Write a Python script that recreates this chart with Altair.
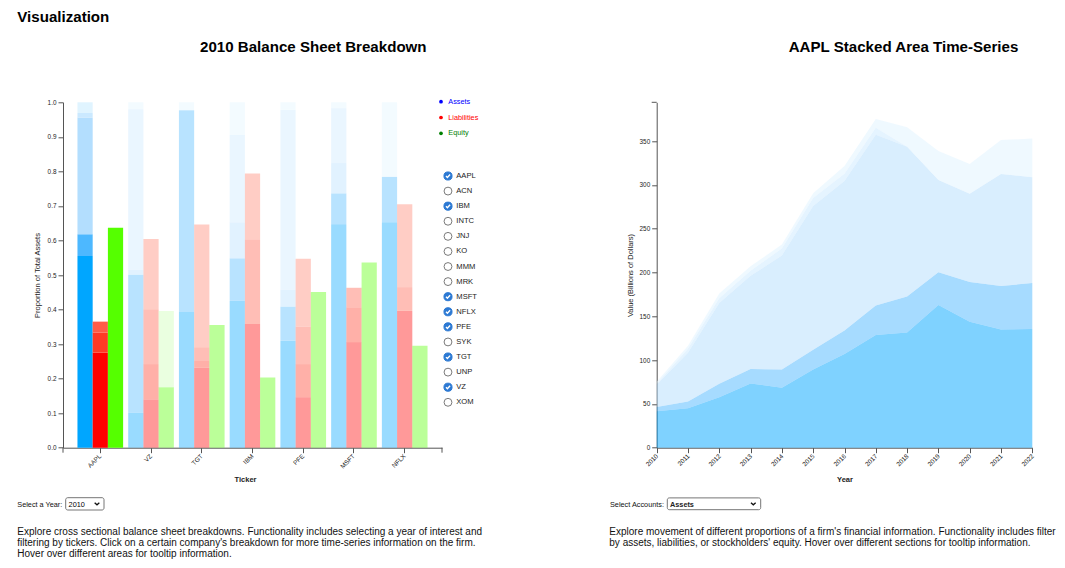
import altair as alt
import pandas as pd

FONT = "Liberation Sans"

# ---------------- data ----------------
BAR_TICKERS = ["AAPL", "VZ", "TGT", "IBM", "PFE", "MSFT", "NFLX"]
ACCOUNTS = ["Assets", "Liabilities", "Equity"]
SELECTED_FIRM = "AAPL"
YEAR = 2010

# cumulative segment tops (proportion of total assets), bottom -> top
ASSET_TOPS = {
    "AAPL": [0.555, 0.618, 0.956, 0.969, 1.000],
    "VZ":   [0.101, 0.501, 0.515, 0.980, 1.000],
    "TGT":  [0.393, 0.977, 0.977, 0.977, 1.000],
    "IBM":  [0.425, 0.548, 0.652, 0.905, 1.000],
    "PFE":  [0.310, 0.408, 0.457, 0.978, 1.000],
    "MSFT": [0.647, 0.736, 0.824, 0.983, 1.000],
    "NFLX": [0.653, 0.784, 0.784, 0.784, 1.000],
}
LIAB_TOPS = {
    "AAPL": [0.275, 0.333, 0.365, 0.365],
    "VZ":   [0.139, 0.242, 0.399, 0.604],
    "TGT":  [0.231, 0.251, 0.289, 0.646],
    "IBM":  [0.358, 0.358, 0.603, 0.794],
    "PFE":  [0.146, 0.242, 0.350, 0.547],
    "MSFT": [0.305, 0.406, 0.463, 0.463],
    "NFLX": [0.396, 0.396, 0.465, 0.705],
}
EQUITY_TOPS = {
    "AAPL": [0.637, 0.637],
    "VZ":   [0.175, 0.396],
    "TGT":  [0.355, 0.355],
    "IBM":  [0.203, 0.203],
    "PFE":  [0.451, 0.451],
    "MSFT": [0.536, 0.536],
    "NFLX": [0.295, 0.295],
}

ALL_TICKERS = ["AAPL", "ACN", "IBM", "INTC", "JNJ", "KO", "MMM", "MRK",
               "MSFT", "NFLX", "PFE", "SYK", "TGT", "UNP", "VZ", "XOM"]
CHECKED = ["AAPL", "IBM", "MSFT", "NFLX", "PFE", "TGT", "VZ"]

YEARS = list(range(2010, 2023))
CURRENT_ASSETS = [41.68, 44.99, 57.65, 73.29, 68.53, 89.38, 106.87, 128.65, 131.34, 162.82, 143.71, 134.84, 135.41]
PPE = [4.77, 7.78, 15.45, 16.60, 20.62, 22.47, 27.01, 33.78, 41.30, 37.38, 45.34, 49.61, 52.52]
LT_SECURITIES = [25.39, 55.62, 92.12, 106.22, 130.16, 164.07, 170.43, 194.71, 170.80, 105.34, 100.89, 127.88, 120.81]
INTANGIBLES = [1.08, 4.43, 5.36, 5.76, 8.00, 9.13, 8.46, 8.02, 0.0, 0.0, 0.0, 0.0, 0.0]
OTHER_ASSETS = [2.26, 3.55, 5.48, 5.15, 4.53, 5.42, 8.76, 10.10, 22.28, 32.98, 33.95, 38.76, 44.01]

ASSET_SEGS = ["A1", "A2", "A3", "A4", "A5"]
LIAB_SEGS = ["L1", "L2", "L3", "L4"]
EQUITY_SEGS = ["E1", "E2"]
SEG_KEYS = ASSET_SEGS + LIAB_SEGS + EQUITY_SEGS
SEG_COLORS = ["#00a6ff", "#4db8ff", "#b3defe", "#cbe9ff", "#e0f4ff",
              "#ff0000", "#ff3a26", "#ff5c48", "#ff826e",
              "#55ff00", "#caffb1"]
LEGEND_COLORS = ["#0000ff", "#ff0000", "#008000"]

LEFT_DESC = [
    "Explore cross sectional balance sheet breakdowns. Functionality includes selecting a year of interest and",
    "filtering by tickers. Click on a certain company's breakdown for more time-series information on the firm.",
    "Hover over different areas for tooltip information.",
]
RIGHT_DESC = [
    "Explore movement of different proportions of a firm's financial information. Functionality includes filtering",
    "by assets, liabilities, or stockholders' equity. Hover over different sections for tooltip information.",
]

# ---------------- tables ----------------
rows = []
for t in BAR_TICKERS:
    for acct, tops, keys in (("Assets", ASSET_TOPS[t], ASSET_SEGS),
                             ("Liabilities", LIAB_TOPS[t], LIAB_SEGS),
                             ("Equity", EQUITY_TOPS[t], EQUITY_SEGS)):
        lo = 0.0
        for k, hi in zip(keys, tops):
            if hi > lo:
                rows.append({"ticker": t, "account": acct, "seg": k, "lo": lo, "hi": hi})
            lo = hi
df_bars = pd.DataFrame(rows)

arows = []
for i, y in enumerate(YEARS):
    for j, (k, series) in enumerate(zip(ASSET_SEGS, [CURRENT_ASSETS, PPE, LT_SECURITIES, INTANGIBLES, OTHER_ASSETS])):
        arows.append({"year": y, "seg": k, "idx": j, "value": series[i]})
df_area = pd.DataFrame(arows)

ONE = pd.DataFrame({"k": [0]})

# plot geometry (pixels inside the shared plot area)
H = 345.4
LX0, LX1 = 0, 379          # left chart x range
RX0, RX1 = 593.7, 969.3    # right chart x range

AX = dict(labelFont=FONT, titleFont=FONT, labelFontSize=6.4, titleFontSize=7.5,
          labelColor="#222", titleColor="#222", domainColor="#555", tickColor="#555",
          tickSize=5, grid=False, labelPadding=2, labelFlush=False)

color_enc = alt.Color("seg:N", scale=alt.Scale(domain=SEG_KEYS, range=SEG_COLORS), legend=None)

bars = alt.Chart(df_bars).mark_bar().encode(
    x=alt.X("ticker:N",
            scale=alt.Scale(domain=BAR_TICKERS, range=[LX0, LX1], paddingInner=0.1, paddingOuter=0.285),
            axis=alt.Axis(title="Ticker", orient="bottom", labelAngle=315, labelAlign="right",
                          labelBaseline="middle", titleX=182, titleY=34, titleBaseline="alphabetic",
                          titleFontWeight="bold", **AX)),
    xOffset=alt.XOffset("account:N", scale=alt.Scale(domain=ACCOUNTS, paddingInner=0, paddingOuter=0)),
    y=alt.Y("lo:Q", scale=alt.Scale(domain=[0, 1], nice=False, zero=True),
            axis=alt.Axis(values=[i / 10 for i in range(11)], format=".1f", orient="left",
                          title="Proportion of Total Assets", titleX=-23.6, titleY=H / 2,
                          titleAngle=270, titleAlign="center", titleBaseline="alphabetic",
                          titleFontWeight="normal", **AX)),
    y2="hi:Q",
    color=color_enc,
    opacity=alt.when(alt.datum.ticker == SELECTED_FIRM).then(alt.value(1.0)).otherwise(alt.value(0.4)),
)

area = alt.Chart(df_area).mark_area(opacity=0.5).encode(
    x=alt.X("year:Q",
            scale=alt.Scale(domain=[2010, 2022], range=[RX0, RX1], nice=False, zero=False),
            axis=alt.Axis(values=YEARS, format="d", orient="bottom", title="Year", labelAngle=315,
                          labelAlign="right", labelBaseline="middle", titleX=(RX0 + RX1) / 2, titleY=34,
                          titleBaseline="alphabetic", titleFontWeight="bold", **AX)),
    y=alt.Y("value:Q", stack="zero", scale=alt.Scale(domain=[0, 394.2], nice=False),
            axis=alt.Axis(values=[0, 50, 100, 150, 200, 250, 300, 350], orient="left", offset=-RX0,
                          title="Value (Billions of Dollars)", titleX=-24, titleY=H / 2,
                          titleAngle=270, titleAlign="center", titleBaseline="alphabetic",
                          titleFontWeight="normal", **AX)),
    color=color_enc,
    order=alt.Order("idx:Q"),
)


def tick_rule(x1, x2, y1, y2):
    return alt.Chart(ONE).mark_rule(color="#555", strokeWidth=1).encode(
        x=alt.value(x1), x2=alt.value(x2), y=alt.value(y1), y2=alt.value(y2))


outer_ticks = [
    tick_rule(LX0, LX0, H, H + 5),
    tick_rule(LX1, LX1, H, H + 5),
    tick_rule(RX0 - 5, RX0, 0, 0),
]

# ticker checklist
ycb = alt.Y("ticker:N", scale=alt.Scale(type="point", domain=ALL_TICKERS, range=[73.7, 300.0], padding=0), axis=None)
df_on = pd.DataFrame({"ticker": CHECKED})
df_off = pd.DataFrame({"ticker": [t for t in ALL_TICKERS if t not in CHECKED]})
df_all = pd.DataFrame({"ticker": ALL_TICKERS})
CBX = 385
cb_off = alt.Chart(df_off).mark_point(shape="circle", filled=True, fill="white", stroke="#7a7a7a",
                                      strokeWidth=1, size=62, opacity=1).encode(x=alt.value(CBX), y=ycb)
cb_on = alt.Chart(df_on).mark_point(shape="circle", filled=True, fill="#2c79d3", stroke="#2c79d3",
                                    strokeWidth=1, size=66, opacity=1).encode(x=alt.value(CBX), y=ycb)
cb_tick = alt.Chart(df_on).mark_point(shape="M-0.5,0.02L-0.15,0.38L0.52,-0.36", filled=False, stroke="white",
                                      strokeWidth=1.4, size=64, opacity=1).encode(x=alt.value(CBX), y=ycb)
cb_txt = alt.Chart(df_all).mark_text(align="left", baseline="middle", font=FONT, fontSize=7.6,
                                     color="#222").encode(x=alt.value(CBX + 8.3), y=ycb, text="ticker:N")

# accounts legend
df_leg = pd.DataFrame({"account": ACCOUNTS})
yleg = alt.Y("account:N", scale=alt.Scale(type="point", domain=ACCOUNTS, range=[-0.6, 31.0], padding=0), axis=None)
fleg = alt.Fill("account:N", scale=alt.Scale(domain=ACCOUNTS, range=LEGEND_COLORS), legend=None)
leg_dot = alt.Chart(df_leg).mark_circle(size=14, opacity=1).encode(x=alt.value(378), y=yleg, fill=fleg)
leg_txt = alt.Chart(df_leg).mark_text(align="left", baseline="middle", font=FONT, fontSize=7.3).encode(
    x=alt.value(385.3), y=yleg, text="account:N", fill=fleg)


def label(txt, x, y, size, weight="normal", color="#000", align="left", line_height=None, limit=None):
    props = dict(text=txt, align=align, baseline="alphabetic", font=FONT, fontSize=size,
                 fontWeight=weight, color=color)
    if line_height:
        props["lineHeight"] = line_height
    if limit:
        props["limit"] = limit
        props["ellipsis"] = "\u200b"
    return alt.Chart(ONE).mark_text(**props).encode(x=alt.value(x), y=alt.value(y))


def select_box(x1, x2, y1, y2):
    return alt.Chart(ONE).mark_rect(fill="white", stroke="#767676", strokeWidth=1, cornerRadius=2).encode(
        x=alt.value(x1), x2=alt.value(x2), y=alt.value(y1), y2=alt.value(y2))


def chevron(x, y):
    return alt.Chart(ONE).mark_point(shape="M-1,-0.45L0,0.45L1,-0.45", filled=False, stroke="#111",
                                     strokeWidth=1.3, size=22, opacity=1).encode(x=alt.value(x), y=alt.value(y))


PAR_Y = 432.8    # first paragraph baseline (kept inside the page)
PAR_LH = 11.2

decor = [
    label("Visualization", -45.7, -80.0, 15.1, "bold"),
    label(f"{YEAR} Balance Sheet Breakdown", 250.3, -50.5, 15.1, "bold", align="center"),
    label(f"{SELECTED_FIRM} Stacked Area Time-Series", 840.5, -50.5, 15.1, "bold", align="center"),
    label("Select a Year:", -45.7, 404.4, 7.3, color="#111"),
    select_box(2.7, 41, 395.4, 407.7),
    label(str(YEAR), 5.6, 404.3, 7.3, color="#000"),
    chevron(34, 401.4),
    label(LEFT_DESC, -45.7, PAR_Y, 10.0, color="#111", line_height=PAR_LH),
    label("Select Accounts:", 547, 404.4, 7.3, color="#111"),
    select_box(604.3, 697.7, 395.6, 407.4),
    label("Assets", 607, 404.3, 7.3, "bold", color="#222"),
    chevron(690.3, 401.4),
    label(RIGHT_DESC, 546.3, PAR_Y, 10.0, color="#111", line_height=PAR_LH, limit=447.5),
]

chart = alt.layer(bars, area, *outer_ticks, cb_off, cb_on, cb_tick, cb_txt, leg_dot, leg_txt, *decor).resolve_scale(
    x="independent", y="independent"
).resolve_axis(
    x="independent", y="independent"
).properties(
    width=994, height=H,
    padding={"left": 55, "top": 94.3, "right": 0, "bottom": 112.3},
    autosize=alt.AutoSizeParams(type="none"),
    background="white",
).configure_view(stroke=None)

chart.save("out.html", embed_options={"renderer": "svg", "actions": False})
